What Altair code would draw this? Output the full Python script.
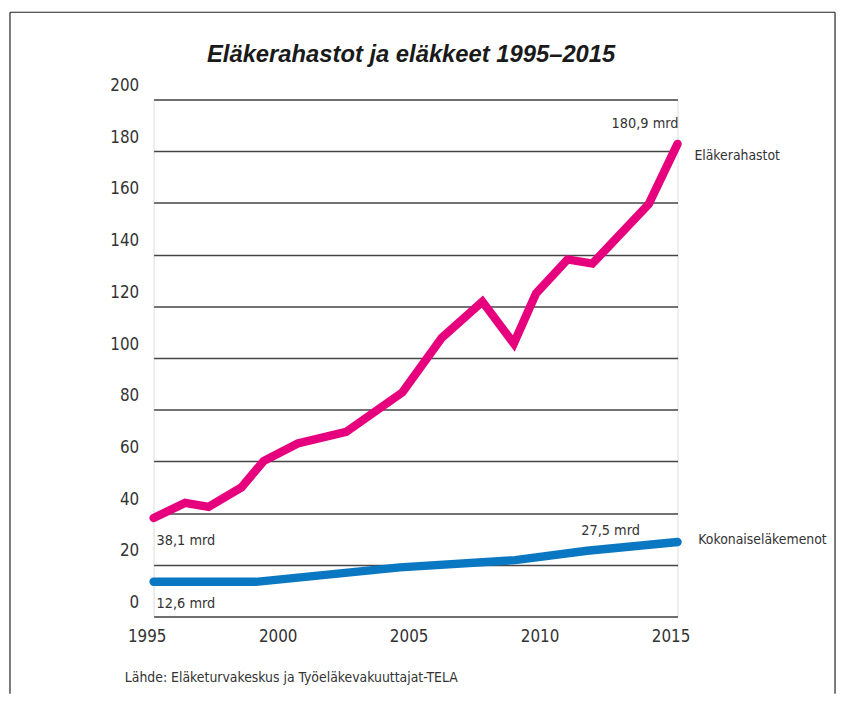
import altair as alt
import pandas as pd

# ---- data ----
pink_years = [1995.0, 1996.2, 1997.1, 1998.35, 1999.2, 2000.5, 2002.35, 2004.5,
              2006.0, 2007.55, 2008.75, 2009.6, 2010.8, 2011.75, 2013.9, 2015.0]
pink_values = [38.1, 43.9, 42.4, 49.9, 60.1, 66.9, 71.4, 86.7,
               107.8, 121.8, 105.6, 125.0, 138.1, 136.5, 159.5, 182.8]

blue_years = [1995.0, 1998.9, 2004.4, 2008.8, 2011.55, 2015.0]
blue_values = [13.4, 13.4, 19.0, 21.8, 25.4, 28.8]

series_names = ["Eläkerahastot", "Kokonaiseläkemenot"]
pink_labels = ["38,1 mrd", "180,9 mrd"]
blue_labels = ["12,6 mrd", "27,5 mrd"]

x_ticks = [1995, 2000, 2005, 2010, 2015]
y_ticks = [0, 20, 40, 60, 80, 100, 120, 140, 160, 180, 200]

title_text = "Eläkerahastot ja eläkkeet 1995–2015"
source_text = "Lähde: Eläketurvakeskus ja Työeläkevakuuttajat-TELA"

# ---- styling ----
PINK = "#e6007e"
BLUE = "#0a77c2"
FONT = "DejaVu Sans Condensed, Liberation Sans Narrow, Roboto, sans-serif"
TXT = "#333333"

lines_df = pd.concat([
    pd.DataFrame({"year": pink_years, "value": pink_values, "series": series_names[0]}),
    pd.DataFrame({"year": blue_years, "value": blue_values, "series": series_names[1]}),
], ignore_index=True)

x_enc = alt.X("year:Q",
              scale=alt.Scale(domain=[1995, 2015], nice=False, zero=False),
              axis=alt.Axis(values=x_ticks, format="d", grid=False, domain=False,
                            ticks=False, labelFlush=False, labelOffset=-7,
                            labelPadding=12, labelFontSize=17, labelFont=FONT,
                            labelColor=TXT, title=None))
y_enc = alt.Y("value:Q",
              scale=alt.Scale(domain=[0, 200], nice=False),
              axis=alt.Axis(values=y_ticks, grid=True, gridColor="#454545",
                            gridWidth=1.6, domain=False, ticks=False,
                            labelOffset=-14, labelPadding=15, labelFontSize=17,
                            labelFont=FONT, labelColor=TXT, labelBaseline="middle",
                            title=None))

lines = alt.Chart(lines_df).mark_line(strokeWidth=8.5, strokeCap="round",
                                      strokeJoin="miter").encode(
    x=x_enc, y=y_enc,
    color=alt.Color("series:N",
                    scale=alt.Scale(domain=series_names, range=[PINK, BLUE]),
                    legend=None),
)


def point_text(year, value, label, dx, dy, align, size=14.5):
    df = pd.DataFrame({"year": [year], "value": [value], "label": [label]})
    return alt.Chart(df).mark_text(align=align, baseline="middle", dx=dx, dy=dy,
                                   font=FONT, fontSize=size, color=TXT).encode(
        x="year:Q", y="value:Q", text="label:N")


ann = [
    point_text(pink_years[0], pink_values[0], pink_labels[0], 3, 23, "left"),
    point_text(pink_years[-1], pink_values[-1], pink_labels[1], 1, -20, "right"),
    point_text(blue_years[0], blue_values[0], blue_labels[0], 3, 22, "left"),
    point_text(blue_years[-1], blue_values[-1], blue_labels[1], -38, -11, "right"),
    point_text(pink_years[-1], pink_values[-1], series_names[0], 17, 12, "left", 14),
    point_text(blue_years[-1], blue_values[-1], series_names[1], 21, -2, "left", 14),
]

one = pd.DataFrame({"a": [0]})

title = alt.Chart(one).mark_text(
    text=title_text, font="Liberation Sans, Arial, sans-serif", fontSize=24,
    fontStyle="italic", fontWeight="bold", color="#1a1a1a",
    align="center", baseline="middle").encode(x=alt.value(260), y=alt.value(-45))

source = alt.Chart(one).mark_text(
    text=source_text, font=FONT, fontSize=14, color=TXT,
    align="left", baseline="middle").encode(x=alt.value(-29), y=alt.value(584))

frame_top = alt.Chart(one).mark_rule(color="#222", strokeWidth=1.2).encode(
    x=alt.value(-145), x2=alt.value(688), y=alt.value(-88), y2=alt.value(-88))
frame_left = alt.Chart(one).mark_rule(color="#222", strokeWidth=1.2).encode(
    x=alt.value(-145), x2=alt.value(-145), y=alt.value(-88), y2=alt.value(600))
frame_right = alt.Chart(one).mark_rule(color="#222", strokeWidth=1.2).encode(
    x=alt.value(688), x2=alt.value(688), y=alt.value(-88), y2=alt.value(600))

chart = alt.layer(lines, *ann, title, source, frame_top, frame_left, frame_right).properties(
    width=529, height=522,
    autosize=alt.AutoSizeParams(type="none"),
    padding={"left": 147, "top": 89, "right": 162, "bottom": 78},
).configure_view(stroke=None).configure(background="white")

chart.save("out.html", embed_options={"renderer": "svg", "actions": False})
